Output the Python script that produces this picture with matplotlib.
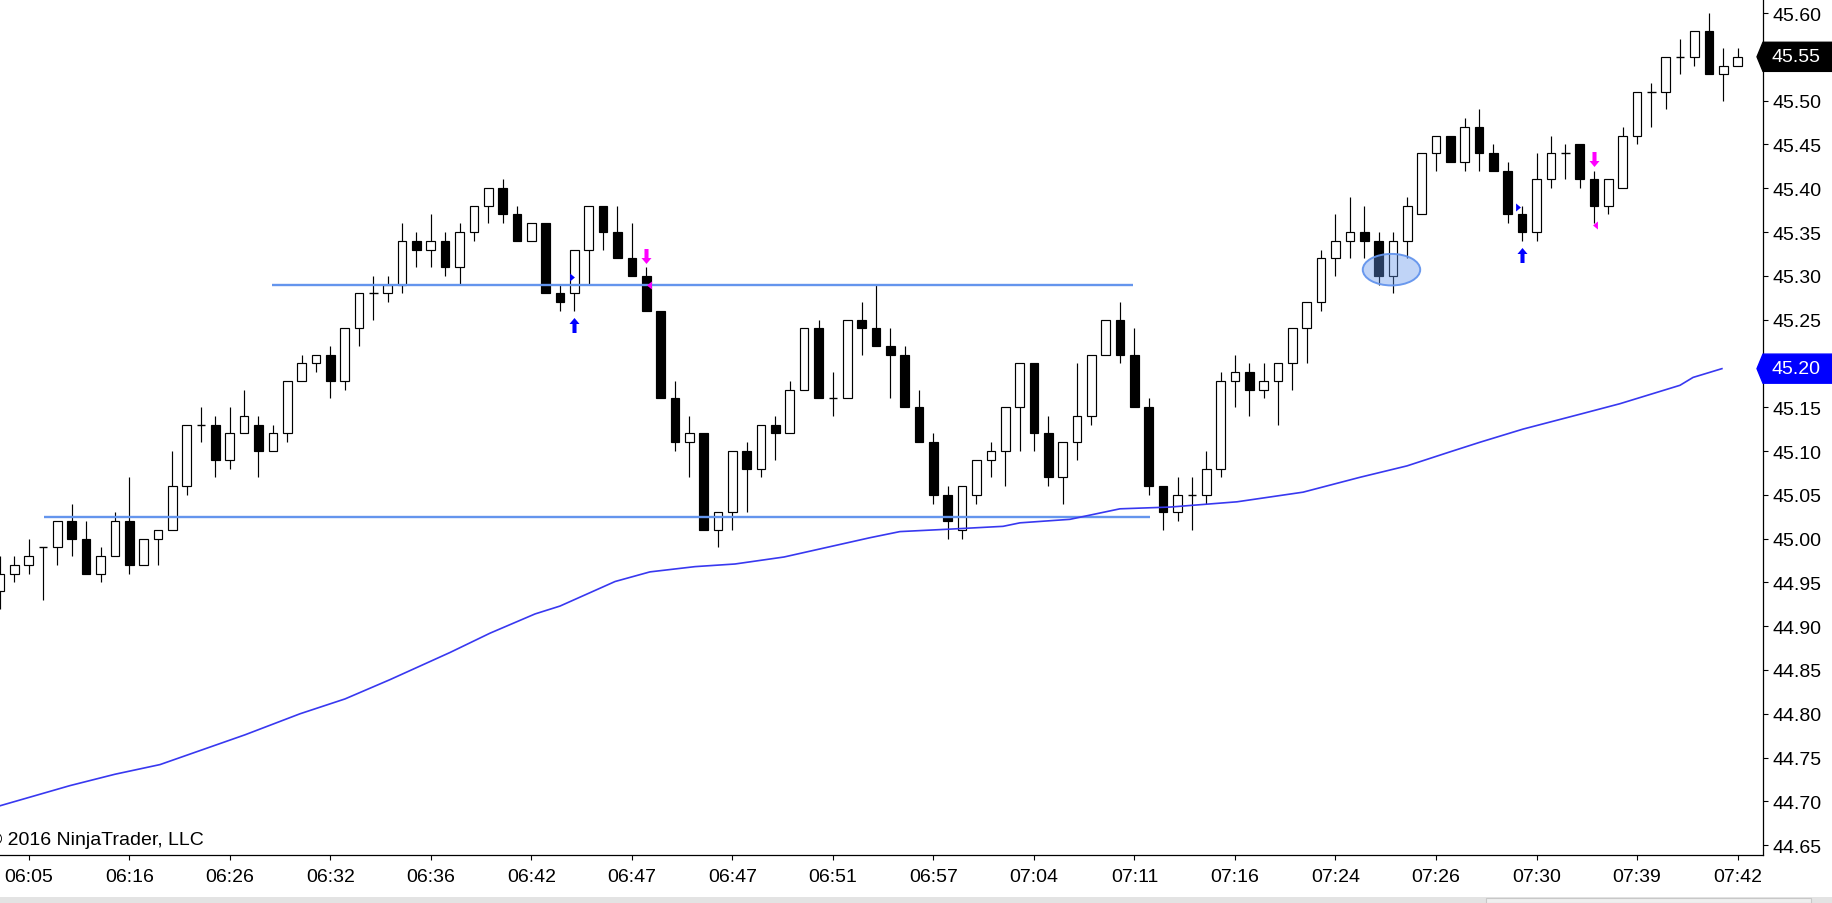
import numpy as np
import matplotlib
matplotlib.use("Agg")
import matplotlib.pyplot as plt
import matplotlib.transforms as mtransforms
from matplotlib.path import Path
from matplotlib.patches import Ellipse, Polygon, Rectangle

plt.rcParams['font.family'] = ['Liberation Sans', 'DejaVu Sans']

# one-minute-ish bars (bar index 0 is the half-cut one at the left edge)
opens = [44.94, 44.96, 44.97, 44.99, 44.99, 45.02, 45.00, 44.96, 44.98, 45.02,
         44.97, 45.00, 45.01, 45.06, 45.13, 45.13, 45.09, 45.12, 45.13, 45.10,
         45.12, 45.18, 45.20, 45.21, 45.18, 45.24, 45.28, 45.28, 45.29, 45.34,
         45.33, 45.34, 45.31, 45.35, 45.38, 45.40, 45.37, 45.34, 45.36, 45.28,
         45.28, 45.33, 45.38, 45.35, 45.32, 45.30, 45.26, 45.16, 45.11, 45.12,
         45.01, 45.03, 45.10, 45.08, 45.13, 45.12, 45.17, 45.24, 45.16, 45.16,
         45.25, 45.24, 45.22, 45.21, 45.15, 45.11, 45.05, 45.01, 45.05, 45.09,
         45.10, 45.15, 45.20, 45.12, 45.07, 45.11, 45.14, 45.21, 45.25, 45.21,
         45.15, 45.06, 45.03, 45.05, 45.05, 45.08, 45.18, 45.19, 45.17, 45.18,
         45.20, 45.24, 45.27, 45.32, 45.34, 45.35, 45.34, 45.30, 45.34, 45.37,
         45.44, 45.46, 45.43, 45.47, 45.44, 45.42, 45.37, 45.35, 45.41, 45.44,
         45.45, 45.41, 45.38, 45.40, 45.46, 45.51, 45.51, 45.55, 45.55, 45.58,
         45.53, 45.54]
highs = [44.98, 44.98, 45.00, 44.99, 45.02, 45.04, 45.02, 44.99, 45.03, 45.07,
         45.00, 45.01, 45.10, 45.13, 45.15, 45.14, 45.15, 45.17, 45.14, 45.13,
         45.18, 45.21, 45.21, 45.22, 45.24, 45.28, 45.30, 45.30, 45.36, 45.35,
         45.37, 45.35, 45.36, 45.38, 45.40, 45.41, 45.38, 45.36, 45.36, 45.29,
         45.33, 45.38, 45.38, 45.38, 45.36, 45.31, 45.26, 45.18, 45.14, 45.12,
         45.03, 45.10, 45.11, 45.13, 45.14, 45.18, 45.24, 45.25, 45.19, 45.25,
         45.27, 45.29, 45.24, 45.22, 45.17, 45.12, 45.06, 45.06, 45.09, 45.11,
         45.15, 45.20, 45.20, 45.14, 45.11, 45.20, 45.21, 45.25, 45.27, 45.24,
         45.16, 45.06, 45.07, 45.07, 45.10, 45.19, 45.21, 45.20, 45.20, 45.20,
         45.24, 45.27, 45.33, 45.37, 45.39, 45.38, 45.35, 45.35, 45.39, 45.44,
         45.46, 45.46, 45.48, 45.49, 45.45, 45.43, 45.38, 45.44, 45.46, 45.45,
         45.45, 45.42, 45.41, 45.47, 45.51, 45.52, 45.55, 45.57, 45.58, 45.60,
         45.56, 45.56]
lows = [44.92, 44.95, 44.96, 44.93, 44.97, 44.98, 44.96, 44.95, 44.98, 44.96,
        44.97, 44.97, 45.01, 45.05, 45.11, 45.07, 45.08, 45.12, 45.07, 45.10,
        45.11, 45.18, 45.19, 45.16, 45.17, 45.22, 45.25, 45.27, 45.28, 45.31,
        45.31, 45.30, 45.29, 45.34, 45.36, 45.36, 45.34, 45.34, 45.28, 45.26,
        45.26, 45.29, 45.33, 45.32, 45.30, 45.26, 45.16, 45.10, 45.07, 45.01,
        44.99, 45.01, 45.03, 45.07, 45.09, 45.12, 45.17, 45.16, 45.14, 45.16,
        45.21, 45.22, 45.16, 45.15, 45.11, 45.04, 45.00, 45.00, 45.04, 45.07,
        45.06, 45.10, 45.10, 45.06, 45.04, 45.09, 45.13, 45.21, 45.20, 45.15,
        45.05, 45.01, 45.02, 45.01, 45.04, 45.07, 45.15, 45.14, 45.16, 45.13,
        45.17, 45.20, 45.26, 45.30, 45.32, 45.32, 45.29, 45.28, 45.32, 45.37,
        45.42, 45.43, 45.42, 45.42, 45.42, 45.36, 45.34, 45.34, 45.40, 45.41,
        45.40, 45.36, 45.37, 45.40, 45.45, 45.47, 45.49, 45.53, 45.54, 45.53,
        45.50, 45.54]
closes = [44.96, 44.97, 44.98, 44.99, 45.02, 45.00, 44.96, 44.98, 45.02, 44.97,
          45.00, 45.01, 45.06, 45.13, 45.13, 45.09, 45.12, 45.14, 45.10, 45.12,
          45.18, 45.20, 45.21, 45.18, 45.24, 45.28, 45.28, 45.29, 45.34, 45.33,
          45.34, 45.31, 45.35, 45.38, 45.40, 45.37, 45.34, 45.36, 45.28, 45.27,
          45.33, 45.38, 45.35, 45.32, 45.30, 45.26, 45.16, 45.11, 45.12, 45.01,
          45.03, 45.10, 45.08, 45.13, 45.12, 45.17, 45.24, 45.16, 45.16, 45.25,
          45.24, 45.22, 45.21, 45.15, 45.11, 45.05, 45.02, 45.06, 45.09, 45.10,
          45.15, 45.20, 45.12, 45.07, 45.11, 45.14, 45.21, 45.25, 45.21, 45.15,
          45.06, 45.03, 45.05, 45.05, 45.08, 45.18, 45.19, 45.17, 45.18, 45.20,
          45.24, 45.27, 45.32, 45.34, 45.35, 45.34, 45.30, 45.34, 45.38, 45.44,
          45.46, 45.43, 45.47, 45.44, 45.42, 45.37, 45.35, 45.41, 45.44, 45.44,
          45.41, 45.38, 45.41, 45.46, 45.51, 45.51, 45.55, 45.55, 45.58, 45.53,
          45.54, 45.55]

time_labels = ["06:05", "06:16", "06:26", "06:32", "06:36", "06:42", "06:47", "06:47", "06:51",
               "06:57", "07:04", "07:11", "07:16", "07:24", "07:26", "07:30", "07:39", "07:42"]
label_bars = list(range(2, 122, 7))

# moving average, read at points along the line (bar index, price)
ma_bar = [0, 4.87, 8.01, 11.14, 17.06, 20.89, 24.03, 27.16, 31.34, 34.12, 37.26, 39.0,
          42.83, 45.26, 48.40, 51.18, 54.60, 60.58, 62.67, 66.37, 69.85, 71.03, 74.51,
          77.99, 81.48, 86.14, 90.74, 94.71, 97.98, 100.97, 103.06, 106.06, 110.03,
          112.81, 116.99, 117.9, 119.91]
ma_val = [44.695, 44.718, 44.731, 44.742, 44.776, 44.800, 44.817, 44.839, 44.870, 44.892,
          44.914, 44.923, 44.951, 44.962, 44.968, 44.971, 44.979, 45.001, 45.008, 45.011,
          45.014, 45.018, 45.022, 45.034, 45.036, 45.042, 45.053, 45.070, 45.083, 45.099,
          45.110, 45.125, 45.142, 45.154, 45.175, 45.184, 45.194]

# drawn objects
level_prices = [45.29, 45.025]
level_start = [18.94, 3.06]
level_end = [78.9, 80.1]

long_arrow_bar = [40, 106]
long_arrow_price = [45.244, 45.324]
short_arrow_bar = [45, 111]
short_arrow_price = [45.323, 45.433]
long_tri_bar = [39.8, 105.7]
long_tri_price = [45.299, 45.379]
short_tri_bar = [45.2, 111.1]
short_tri_price = [45.289, 45.358]

zone_bar, zone_price = 96.9, 45.307
zone_w, zone_h = 4.0, 0.036

last_price = 45.55
ma_last = 45.194

# ---- figure
W, H = 1833, 904
fig = plt.figure(figsize=(W / 100, H / 100), dpi=100)
fig.patch.set_facecolor("white")
ax = fig.add_axes([0, 48 / H, 1763 / W, 856 / H])
ax.set_xlim(0, 1763 / 14.36)
ax.set_ylim(44.6388, 45.616)

x = np.arange(len(opens))
o = np.array(opens); c = np.array(closes)
hi = np.array(highs); lo = np.array(lows)
bw = 0.6

ax.vlines(x, lo, hi, color="black", lw=0.85, zorder=2)
up = c > o
dn = c < o
dj = c == o
ax.bar(x[up], (c - o)[up], bottom=o[up], width=bw, facecolor="white", edgecolor="black",
       linewidth=0.85, zorder=3)
ax.bar(x[dn], (o - c)[dn], bottom=c[dn], width=bw, facecolor="black", edgecolor="black",
       linewidth=0.85, zorder=3)
ax.hlines(c[dj], x[dj] - bw / 2, x[dj] + bw / 2, color="black", lw=1.0, zorder=3)

# levels and MA
for p, a, b in zip(level_prices, level_start, level_end):
    ax.plot([a, b], [p, p], color="#6495ed", lw=1.7, zorder=4, solid_capstyle="butt")
ax.plot(ma_bar, ma_val, color="#3838f0", lw=1.2, zorder=5)

ax.add_patch(Ellipse((zone_bar, zone_price), zone_w, zone_h, facecolor=(0.39, 0.58, 0.93, 0.4),
                     edgecolor=(0.39, 0.58, 0.93, 0.95), lw=1.4, zorder=6))

# signal markers
up_arrow = Path([(-0.27, -1), (0.27, -1), (0.27, 0.2), (0.67, 0.2), (0, 1),
                 (-0.67, 0.2), (-0.27, 0.2), (-0.27, -1)], closed=True)
dn_arrow = Path([(vx, -vy) for vx, vy in up_arrow.vertices], closed=True)
tri_r = Path([(-0.6, -1), (0.6, 0), (-0.6, 1), (-0.6, -1)], closed=True)
tri_l = Path([(0.6, -1), (-0.6, 0), (0.6, 1), (0.6, -1)], closed=True)

ax.plot(long_arrow_bar, long_arrow_price, ls="none", marker=up_arrow, ms=10.8,
        color="#0000ff", mew=0, zorder=7)
ax.plot(short_arrow_bar, short_arrow_price, ls="none", marker=dn_arrow, ms=10.8,
        color="#ff00ff", mew=0, zorder=7)
ax.plot(long_tri_bar, long_tri_price, ls="none", marker=tri_r, ms=5.8,
        color="#0000ff", mew=0, zorder=7)
ax.plot(short_tri_bar, short_tri_price, ls="none", marker=tri_l, ms=5.8,
        color="#ff00ff", mew=0, zorder=7)

# axes styling
for side in ["left", "top"]:
    ax.spines[side].set_visible(False)
for side in ["right", "bottom"]:
    ax.spines[side].set_linewidth(0.9)
ax.yaxis.tick_right()
yt = np.round(np.arange(44.65, 45.6001, 0.05), 2)
ax.set_yticks(yt)
ax.set_yticklabels([f"{v:.2f}" for v in yt])
ax.set_xticks(label_bars)
ax.set_xticklabels(time_labels)
ax.tick_params(axis="y", direction="out", length=3.6, width=0.8, pad=3, labelsize=14)
ax.tick_params(axis="x", direction="out", length=3.6, width=0.8, pad=6, labelsize=14)

ax.text(-12 / 1763, 11 / 856, "\u00a9 2016 NinjaTrader, LLC", transform=ax.transAxes,
        fontsize=14, ha="left", va="baseline", color="black")

# price tags on the right axis
blend = mtransforms.blended_transform_factory(ax.transAxes, ax.transData)
half = 0.0166
for val, txt, col in [(last_price, f"{last_price:.2f}", "black"),
                      (ma_last, "45.20", "#0000ff")]:
    tag = Polygon([(0.9966, val), (1.0, val + half), (1.05, val + half),
                   (1.05, val - half), (1.0, val - half)], closed=True,
                  transform=blend, facecolor=col, edgecolor=col, clip_on=False, zorder=10)
    ax.add_patch(tag)
    ax.text(1.0051, val, txt, transform=blend, color="white", fontsize=14,
            va="center", ha="left", zorder=11, clip_on=False)

# scrollbar strip at the bottom
fig.patches.append(Rectangle((0, 0), 1, 6 / H, transform=fig.transFigure,
                             facecolor="#e3e3e3", edgecolor="none"))
fig.patches.append(Rectangle((1486 / W, 0), 325 / W, 5 / H, transform=fig.transFigure,
                             facecolor="#efefef", edgecolor="#c8c8c8", lw=0.8))

fig.savefig("out.png", dpi=100)
